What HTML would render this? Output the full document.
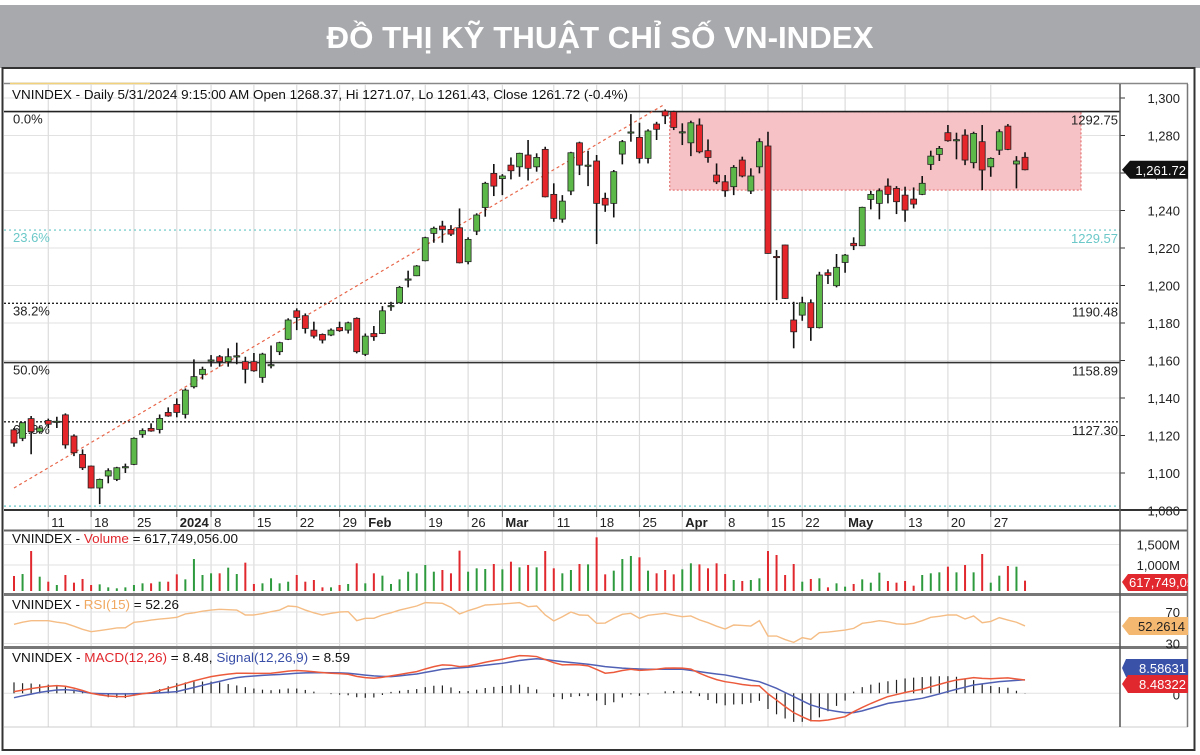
<!DOCTYPE html>
<html><head><meta charset="utf-8"><style>
html,body{margin:0;padding:0;background:#fff;}
svg{display:block;font-family:"Liberation Sans",sans-serif;}
</style></head><body>
<svg id="chart" width="1200" height="755" viewBox="0 0 1200 755" xmlns="http://www.w3.org/2000/svg">
<defs>
<clipPath id="plotClip"><rect x="4" y="84" width="1116" height="426"/></clipPath>
<clipPath id="volClip"><rect x="1120" y="531" width="68" height="62"/></clipPath>
</defs>
<rect x="0" y="5" width="1200" height="63" fill="#a8a9ac"/>
<text x="600" y="48" text-anchor="middle" font-size="31" font-weight="bold" fill="#fff" textLength="547" lengthAdjust="spacingAndGlyphs" font-family="Liberation Sans, DejaVu Sans, sans-serif">ĐỒ THỊ KỸ THUẬT CHỈ SỐ VN-INDEX</text>
<rect x="2.5" y="68" width="1192" height="682" fill="none" stroke="#333" stroke-width="2"/>
<line x1="4" y1="83.5" x2="1188" y2="83.5" stroke="#888" stroke-width="1.5"/>
<line x1="10" y1="83.5" x2="150" y2="83.5" stroke="#f2d27a" stroke-width="1.5"/>
<g id="grid"></g>
<rect id="zone" fill="#f6c2c5" stroke="#e0605f" stroke-width="1" stroke-dasharray="2,2"/>
<g id="fib" clip-path="url(#plotClip)"></g>
<line id="trend" stroke="#e8664a" stroke-width="1.2" stroke-dasharray="3,3"/>
<g id="candles"></g>
<g id="axes"></g>
<text x="12" y="99" font-size="13" fill="#111" textLength="616" lengthAdjust="spacingAndGlyphs">VNINDEX - Daily 5/31/2024 9:15:00 AM Open 1268.37, Hi 1271.07, Lo 1261.43, Close 1261.72 (-0.4%)</text>
<text x="12" y="543" font-size="13" fill="#111" textLength="226" lengthAdjust="spacingAndGlyphs">VNINDEX - <tspan fill="#e0282e">Volume</tspan> = 617,749,056.00</text>
<text x="12" y="609" font-size="13" fill="#111" textLength="167" lengthAdjust="spacingAndGlyphs">VNINDEX - <tspan fill="#f0a860">RSI(15)</tspan> = 52.26</text>
<text x="12" y="662" font-size="13" fill="#111" textLength="338" lengthAdjust="spacingAndGlyphs">VNINDEX - <tspan fill="#e0282e">MACD(12,26)</tspan> = 8.48, <tspan fill="#3a4fa8">Signal(12,26,9)</tspan> = 8.59</text>
</svg>
<script>
const opens=[1123,1118.5,1129,1122,1128,1127.2,1131,1119.7,1109.9,1103.7,1092,1098.4,1096.6,1103,1104.6,1120.6,1123.8,1123.2,1132.3,1136.6,1131.3,1146,1152.6,1160,1162,1159.4,1162.2,1159.4,1159.4,1151,1157.6,1164.7,1171.3,1186.5,1183.9,1176.2,1173.9,1173.6,1177.6,1176.2,1182.5,1163.3,1174.4,1174.4,1189,1190.8,1203.2,1205.2,1213.2,1227.8,1231.7,1229.9,1230.8,1212.7,1229,1241.6,1259.8,1257,1264.2,1263.3,1269.6,1263.3,1272.6,1248.6,1235.4,1250.4,1276.1,1264,1266.4,1246.5,1243.8,1270.1,1281.5,1279,1267.8,1286.1,1293,1292.7,1282,1276.1,1285.6,1271.9,1258.9,1255.3,1252.7,1266.9,1250.4,1263.3,1274.4,1215.5,1221.6,1181.6,1184.2,1190.8,1177.5,1206.8,1199.9,1212.3,1222.5,1221.2,1245.9,1243.8,1253,1251.8,1248.2,1246.1,1248.6,1264.6,1269.9,1281.5,1277.6,1280.2,1265.5,1276.7,1263.3,1272.2,1285,1264.8,1268.37];
const highs=[1124,1127,1130.4,1125,1129,1130,1131.8,1120.6,1112.6,1104,1097,1102.5,1103.3,1105,1119,1123.8,1126.5,1131.2,1135,1139.8,1145.1,1160.6,1156.7,1162.9,1162.9,1166.5,1169.5,1162,1164,1164.1,1168,1170,1182.5,1187.8,1185.1,1180.7,1174.4,1177.1,1180.7,1180.7,1183,1174.4,1178.4,1189,1191.3,1199.7,1207.9,1210.9,1226,1231.4,1234.5,1232.2,1241.1,1225.7,1238.5,1255.3,1264.8,1259.4,1268.3,1270.8,1277.6,1270.5,1274,1254.5,1248.2,1271.3,1276.7,1271.9,1269.6,1249.5,1261.6,1277.6,1291.4,1286.8,1283.3,1287.3,1293.9,1293.2,1286.5,1287.9,1289.1,1277.9,1265.1,1258.9,1264.2,1268.7,1262.5,1278.5,1282,1218.9,1221.8,1191.3,1194,1192.6,1207.3,1208.6,1216.8,1216.8,1225.7,1242,1250.5,1251.8,1257.1,1253,1252.7,1252.3,1258.4,1271.9,1274.4,1285.6,1281.5,1283.3,1282,1285.6,1268.3,1283.3,1286.1,1269,1271.07];
const lows=[1114,1117,1110,1121,1124,1124,1113,1109,1101.6,1091.8,1083.4,1094.5,1095.7,1100,1104.2,1118.8,1122,1121.1,1130,1129.7,1129.1,1145.1,1149.9,1156.7,1156.7,1156.7,1158,1147.8,1154,1148.1,1155.8,1162.9,1170.9,1176.2,1174.4,1171.8,1169.1,1173,1175.3,1174.4,1163.8,1162.4,1170.5,1174.1,1186.5,1190.5,1199,1205,1212.9,1222.8,1222.8,1226.4,1211.8,1211.3,1226.9,1236.7,1247.7,1248.2,1256.6,1258,1256,1260.7,1247,1234,1233.5,1248.2,1258.9,1253,1222.1,1239.3,1236.3,1264.6,1276.7,1265.1,1265.1,1277.6,1286.1,1282.9,1274.9,1269,1270.5,1265.5,1254.1,1247.3,1248.2,1257.7,1248.8,1259.8,1217,1192.2,1192.9,1166.5,1181.2,1170.5,1177.1,1200.8,1199,1206.8,1218.9,1221,1240.6,1235.3,1243.8,1238.1,1234,1241.1,1248.2,1261.6,1266.4,1276.7,1267.3,1264.2,1262.5,1250.9,1258,1269.6,1272.2,1251.8,1261.43];
const closes=[1116,1126.8,1122,1124,1126,1127.6,1115,1110.8,1102.8,1092,1096.6,1101.2,1102.8,1103.4,1118.5,1122.6,1122.4,1129.1,1130.4,1132.3,1144.2,1151.4,1155.3,1160.3,1159.4,1162,1162.5,1155.3,1154.5,1163.4,1157.8,1169.5,1181.6,1183,1177.1,1173,1170.9,1176.2,1175.9,1180.1,1164.7,1173,1172.7,1186.5,1189.3,1199,1203.5,1210.4,1225.5,1230.5,1229.9,1227.4,1212.1,1224.6,1237.6,1254.5,1253,1258.4,1261.2,1270.5,1262.5,1268.3,1247.3,1235.8,1245,1270.8,1264.2,1264.2,1243.8,1242.9,1260.7,1276.7,1281.9,1267.8,1282.4,1283.3,1290.5,1284.3,1282,1286.8,1271.3,1268.3,1255.3,1250.5,1263,1258.4,1258.4,1276.7,1217.1,1215.3,1193.1,1175.3,1190.8,1177.5,1205.6,1205.4,1209.7,1216.2,1221.2,1241.7,1248.6,1250.5,1248.6,1244.7,1240.2,1243.4,1254.5,1269,1273.1,1277.2,1277.8,1266.9,1281.1,1261.6,1267.8,1282,1272.6,1266.4,1261.72];
const volumes=[732,780,1341,715,593,512,756,569,659,512,528,455,431,455,512,553,553,593,593,772,650,1146,756,797,797,935,780,1057,537,553,675,553,593,756,593,634,455,455,512,537,1041,553,797,740,537,650,837,797,1000,837,878,797,1350,837,919,902,1024,894,1081,943,1000,943,1341,919,797,878,1024,1016,1675,772,862,1146,1220,1187,862,797,878,772,894,1041,1016,919,1041,780,634,610,634,675,1341,1244,756,1024,593,659,675,455,553,472,537,650,569,813,610,569,610,496,756,797,821,959,821,1000,821,1268,569,740,976,959,618];
const rsiValues=[54.3,57,59,59,59,57,55.6,52,48,45,46.5,48,49.7,50,56.9,58,59.8,61,62,63.2,67.5,69,71,72.5,73.4,73,72.5,66.2,66.2,68,70.4,72.5,77.6,76.8,72.5,69,66.2,68.3,70,70.4,59,62,62,66.2,69,72.5,75,77.6,81.9,81.5,81,75.9,67.5,71.7,75,78.9,79.5,80.2,81,81.9,76.8,77.6,66.2,58.6,64,70,66.2,65.8,55.6,56,62,67,68.3,62,65.8,67,68.3,66,64,65,60,56.4,52,48.4,53.5,53,52.2,59,39.5,39.5,35,31.4,37.4,35.3,43.7,44.5,45.8,47,49.2,55.6,57,59,57.5,55,54.3,55.6,59,63.2,64.5,66.2,66.2,61.1,65,56.4,58,62.8,59.8,57,52.3];
const macdValues=[1.1,2,3,3.8,4.5,4.9,4.5,3.3,1.8,0,-1,-1.7,-2,-2.1,-1.2,-0.3,0.4,1.8,3.2,4.7,6.3,7.9,9.3,10.6,11.5,12.2,12.8,12.8,12.7,12.7,12.8,13.4,14.1,14.5,14.2,13.7,13.2,12.8,12.5,12.1,10.8,10,9.6,10.2,11.1,12,12.9,13.8,15.5,17,18.1,17.9,17,17.4,18.5,19.8,20.8,21.7,22.9,24,23.8,23.4,21.5,19.5,18.1,18.3,18.1,17.5,15.2,12.8,13.3,14.5,15.3,14.6,14.9,15.3,16,16.1,16,15.4,12.8,10.6,8.7,7.4,6.6,5.6,5,4.7,-0.3,-4.3,-8.5,-12.3,-15,-17.4,-17.6,-17,-16,-14.9,-11.7,-9,-6.5,-4.2,-2.1,-0.8,0.5,1.6,2.6,4.2,5.7,7.2,8.5,9.2,10,9.5,9.3,9.6,9.8,9.1,8.48];
const signalValues=[-2.8,-1.6,-0.5,0.6,1.4,2.1,2.3,1.9,1,0,-0.2,-0.3,-0.4,-0.4,-0.3,-0.1,0,0.3,0.7,1.1,2.4,3.7,5.1,6.4,7.6,8.9,10,10.6,11,11.4,11.7,12,12.4,12.8,13,13.1,13.2,13.1,13,12.8,12.2,11.6,11.1,10.8,10.6,11.1,11.7,12.3,13.3,14.3,15.3,15.8,16.2,16.6,17.2,17.9,18.5,19.1,20,20.9,21.5,22,21.5,20.8,20.2,19.6,19.1,18.5,17.8,17,16.5,16,15.7,15.5,15.3,15.3,15.3,15.3,15.3,14.6,13.8,13,12.3,11.7,10.6,9.5,8.4,7.4,5.3,3.2,0.5,-2.1,-4.8,-7.4,-9,-10.6,-11.5,-12.3,-12.3,-11.2,-9.6,-8,-6.4,-5.6,-4.8,-4,-3.2,-1.8,-0.4,1.1,2.6,3.9,5.3,6,6.7,7.4,7.8,8.2,8.59];
const tickIdx=[4,9,14,19,23,28,33,38,41,48,53,57,63,68,73,78,83,88,92,97,104,109,114];
const tickLabels=['11','18','25','2024','8','15','22','29','Feb','19','26','Mar','11','18','25','Apr','8','15','22','May','13','20','27'];
const boldLabels=['2024','Feb','Mar','Apr','May'];
const priceTicks=[1080,1100,1120,1140,1160,1180,1200,1220,1240,1260,1280,1300];
const fibLabels=['0.0%','23.6%','38.2%','50.0%','61.8%','78.6%'];
const fibValues=[1292.75,1229.57,1190.48,1158.89,1127.30,1082.33];
const fibColors=['#222','#7fd0d0','#222','#333','#222','#7fd0d0'];
const fibDash=['none','2,3','2,2','none','2,2','2,3'];
const zoneRange=[1250.9,1292.75];
const zoneIdx=[77,125];
const trendPts=[[0,1092],[76,1296.8]];
const volTicks=[500,1000,1500];
const volTickLabels=['500M','1,000M','1,500M'];
const rsiTicks=[30,70];

const NS='http://www.w3.org/2000/svg';
function mk(tag,attrs,parent){const e=document.createElementNS(NS,tag);for(const k in attrs)e.setAttribute(k,attrs[k]);(parent||document.getElementById('chart')).appendChild(e);return e;}
const X=i=>14+i*8.568;
const Y=p=>98+(1300-p)*1.875;
const YV=v=>565-(v-1000)*0.041;
const YR=r=>612+(70-r)*0.7875;
const MZ=693.3;
const YM=m=>MZ-m*1.57;
const YH=h=>MZ-h*2.8;

const grid=document.getElementById('grid');
const axes=document.getElementById('axes');
// horizontal price grid
priceTicks.forEach(p=>{
  const g=mk('line',{x1:4,x2:1120,y1:Y(p),y2:Y(p),stroke:'#e2e2e2','stroke-width':1},grid);
  
  
  const t=mk('text',{x:1180,y:Y(p)+5,'text-anchor':'end','font-size':13,fill:'#222'},axes);
  
  
  t.textContent=p.toLocaleString('en-US');
  const tm=mk('line',{x1:1120,x2:1125,y1:Y(p),y2:Y(p),stroke:'#333'},axes);
  
  
});
// vertical grid
tickIdx.forEach((ti,k)=>{
  const x=X(ti);
  const g=mk('line',{x1:x,x2:x,y1:84,y2:727,stroke:'#dcdcdc','stroke-width':1.2},grid);
  
  
  const t=mk('text',{x:x+3,y:527,'font-size':13,fill:'#222','font-weight':boldLabels.includes(tickLabels[k])?'bold':'normal'},axes);
  
  
  t.textContent=tickLabels[k];
  const tm=mk('line',{x1:x,x2:x,y1:511,y2:517,stroke:'#555'},axes);
  
  
});
// panel borders
[[510,2,'#333'],[530.5,2,'#666'],[594.5,3,'#777'],[647.5,3,'#777'],[727,1,'#ccc']].forEach(b=>{
  const l=mk('line',{x1:4,x2:1188,y1:b[0],y2:b[0],stroke:b[2],'stroke-width':b[1]},axes);
  
  
});
const ra=mk('line',{x1:1120,x2:1120,y1:84,y2:727,stroke:'#555','stroke-width':1.5},axes);


const rb=mk('line',{x1:1187.5,x2:1187.5,y1:84,y2:727,stroke:'#777','stroke-width':1.5},axes);



// zone
const zone=document.getElementById('zone');
zone.setAttribute('x',X(zoneIdx[0])-4);
zone.setAttribute('y',Y(zoneRange[1]));
zone.setAttribute('width',X(zoneIdx[1])-X(zoneIdx[0]));
zone.setAttribute('height',Y(zoneRange[0])-Y(zoneRange[1]));

// fib levels
const fib=document.getElementById('fib');
fibValues.forEach((v,k)=>{
  const l=mk('line',{x1:4,x2:1120,y1:Y(v),y2:Y(v),stroke:fibColors[k],'stroke-width':k===0||k===3?1.6:1.4,'stroke-dasharray':fibDash[k]},fib);
  
  
  const col=fibColors[k]==='#222'||fibColors[k]==='#333'?'#222':'#6cc8c8';
  const t1=mk('text',{x:13,y:Y(v)+12,'font-size':13,fill:col},fib);
  
  
  t1.textContent=fibLabels[k];
  const t2=mk('text',{x:1118,y:Y(v)+13,'font-size':13,fill:col,'text-anchor':'end'},fib);
  
  
  t2.textContent=v.toFixed(2);
});
// trend
const tr=document.getElementById('trend');
tr.setAttribute('x1',X(trendPts[0][0]));tr.setAttribute('y1',Y(trendPts[0][1]));
tr.setAttribute('x2',X(trendPts[1][0]));tr.setAttribute('y2',Y(trendPts[1][1]));

// candles
const cg=document.getElementById('candles');
opens.forEach((o,i)=>{
  const c=closes[i],x=X(i),up=c>=o;
  const w=mk('line',{x1:x,x2:x,y1:Y(highs[i]),y2:Y(lows[i]),stroke:'#111','stroke-width':1.6},cg);
  
  
  const top=Y(Math.max(o,c)),h=Math.max(1.2,Y(Math.min(o,c))-top);
  const b=mk('rect',{x:x-3,y:top,width:6,height:h,fill:up?'#5cb848':'#e5262b',stroke:'#222','stroke-width':0.8},cg);
  
  
});
// price tag
const lastY=Y(closes[closes.length-1]);
const pt=mk('path',{d:`M1122 ${lastY} L1130 ${lastY-9} L1188 ${lastY-9} L1188 ${lastY+9} L1130 ${lastY+9} Z`,fill:'#111'},axes);


const ptt=mk('text',{x:1186,y:lastY+5,'text-anchor':'end','font-size':13,fill:'#fff'},axes);


ptt.textContent=closes[closes.length-1].toLocaleString('en-US',{minimumFractionDigits:2});

// volume
[1000,1500].forEach(v=>{
  const g=mk('line',{x1:4,x2:1120,y1:YV(v),y2:YV(v),stroke:'#e2e2e2'},grid);
  
  
});
volTicks.forEach((v,k)=>{
  const t=mk('text',{x:1180,y:YV(v)+5,'text-anchor':'end','font-size':13,fill:'#222'},axes);
  
  
  t.textContent=volTickLabels[k];
});
volumes.forEach((v,i)=>{
  const up=closes[i]>=opens[i];
  const b=mk('rect',{x:X(i)-1,y:YV(v),width:2,height:591-YV(v),fill:up?'#2e9a3e':'#e0282e'},cg);
  
  
});
const vtg=mk('g',{'clip-path':'url(#volClip)'},axes);
const vt=mk('path',{d:'M1122 582 L1128 574 L1192 574 L1192 591 L1128 591 Z',fill:'#e0282e'},vtg);


const vtt=mk('text',{x:1129,y:587,'font-size':13,fill:'#fff'},vtg);


vtt.textContent='617,749,056';

// RSI
rsiTicks.forEach(r=>{
  const g=mk('line',{x1:4,x2:1120,y1:YR(r),y2:YR(r),stroke:'#e2e2e2'},grid);
  
  
  const t=mk('text',{x:1180,y:YR(r)+5,'text-anchor':'end','font-size':13,fill:'#222'},axes);
  
  
  t.textContent=r;
});
const rl=mk('polyline',{points:rsiValues.map((r,i)=>X(i)+','+YR(r)).join(' '),fill:'none',stroke:'#f5bd85','stroke-width':1.4},cg);


const ry=YR(rsiValues[rsiValues.length-1]);
const rt=mk('path',{d:`M1122 ${ry} L1129 ${ry-9} L1188 ${ry-9} L1188 ${ry+9} L1129 ${ry+9} Z`,fill:'#f5b870'},axes);


const rtt=mk('text',{x:1185,y:ry+5,'text-anchor':'end','font-size':13,fill:'#222'},axes);


rtt.textContent='52.2614';

// MACD
const zl=mk('line',{x1:4,x2:1120,y1:MZ,y2:MZ,stroke:'#e2e2e2'},grid);


const zt=mk('text',{x:1180,y:MZ+6,'text-anchor':'end','font-size':13,fill:'#222'},axes);


zt.textContent='0';
macdValues.forEach((m,i)=>{
  const h=m-signalValues[i];
  const b=mk('line',{x1:X(i),x2:X(i),y1:MZ,y2:YH(h),stroke:'#222','stroke-width':1.2},cg);
  
  
});
const sl=mk('polyline',{points:signalValues.map((m,i)=>X(i)+','+YM(m)).join(' '),fill:'none',stroke:'#5060b4','stroke-width':1.5},cg);


const ml=mk('polyline',{points:macdValues.map((m,i)=>X(i)+','+YM(m)).join(' '),fill:'none',stroke:'#ec5a3c','stroke-width':1.5},cg);


const bt=mk('path',{d:'M1122 668 L1126 659 L1188 659 L1188 677 L1126 677 Z',fill:'#3a52a8'},axes);


const btt=mk('text',{x:1186,y:673,'text-anchor':'end','font-size':13,fill:'#fff'},axes);


btt.textContent='8.58631';
const mt=mk('path',{d:'M1122 684 L1128 675 L1188 675 L1188 693 L1128 693 Z',fill:'#e0282e'},axes);


const mtt=mk('text',{x:1186,y:689,'text-anchor':'end','font-size':13,fill:'#fff'},axes);


mtt.textContent='8.48322';
</script>
</body></html>
